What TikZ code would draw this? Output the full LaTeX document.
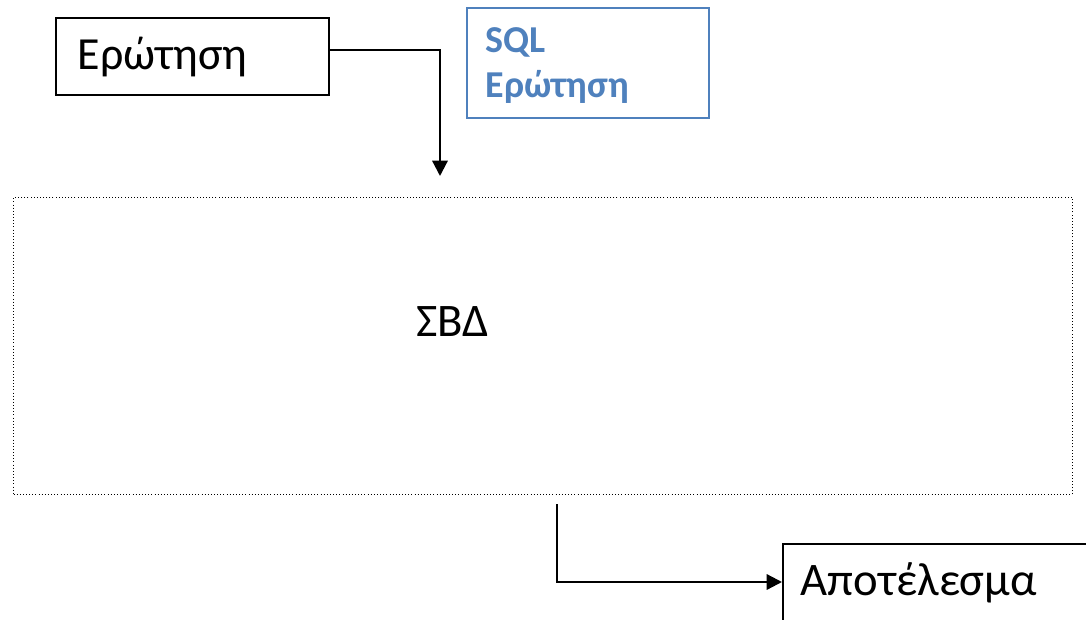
\documentclass[tikz,border=0pt]{standalone}
\usepackage{fontspec}
\setmainfont{Carlito}
\usetikzlibrary{arrows.meta, positioning, calc}
\definecolor{sqlblue}{RGB}{79,129,189}

\begin{document}
\begin{tikzpicture}[x=0.75pt, y=-0.75pt,
	box/.style={draw, line width=1.4pt, inner ysep=0pt, align=left, anchor=north west},
	dotbox/.style={draw, line width=0.75pt, dash pattern=on 0.75pt off 1.6pt, inner sep=0pt, anchor=north west},
	flow/.style={-{Triangle[length=11.5pt,width=11.5pt]}, line width=1.7pt}]
	\useasboundingbox (0,0) rectangle (1086,620);
	
	% The user's query
	\node[box, text width=171.75pt, inner xsep=16.5pt, text height=39pt, text depth=18.75pt,
		font=\fontsize{34.5}{40}\selectfont] (query) at (55,17) {Ερώτηση};
	
	% SQL note
	\node[box, draw=sqlblue, text=sqlblue, text width=153pt, inner xsep=14.25pt,
		text height=33.75pt, text depth=48.75pt,
		font=\bfseries\fontsize{28.5}{33.75}\selectfont] (sql) at (466,7) {SQL\\Ερώτηση};
	
	% The DBMS
	\node[dotbox, minimum width=794.25pt, minimum height=222.75pt] (sbd) at (13,197) {};
	\node[anchor=base west, inner sep=0pt, font=\fontsize{35}{42}\selectfont] (sbdtext) at (416,337) {ΣΒΔ};
	
	% The result
	\node[box, text width=300pt, inner xsep=13.5pt, text height=39pt, text depth=60pt,
		font=\fontsize{35}{42}\selectfont] (result) at (782,543) {Αποτέλεσμα};
	
	% Connectors
	\coordinate (sbdin) at ($(sbd.north west)+(427,-21)$);
	\coordinate (sbdout) at ($(sbd.south west)+(544,9)$);
	\draw[flow] ([yshift=4.9pt]query.east) -| (sbdin);
	\draw[flow] (sbdout) |- ([yshift=-29.25pt]result.north west);
\end{tikzpicture}
\end{document}
